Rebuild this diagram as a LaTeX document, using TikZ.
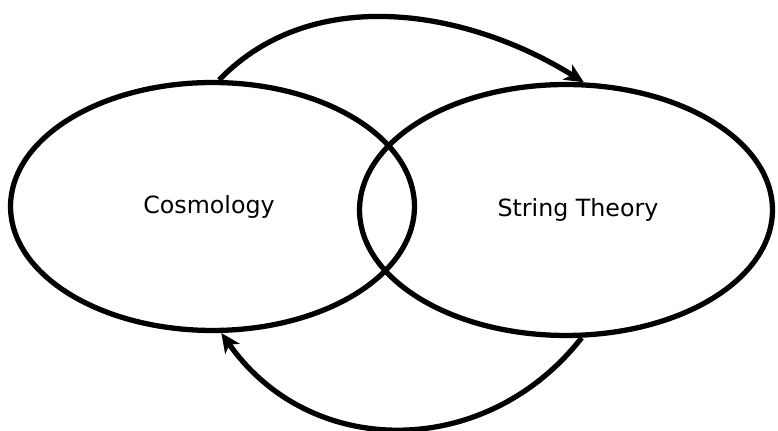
\documentclass[tikz,border=0pt]{standalone}
\usepackage{fontspec}
\setsansfont{DejaVu Sans}
\usetikzlibrary{shapes.geometric, arrows.meta}

\begin{document}
\begin{tikzpicture}[
  x=0.02cm, y=-0.02cm,
  every node/.style={font=\sffamily\fontsize{13.5}{16}\selectfont},
  field/.style={ellipse, draw, line width=3pt, inner sep=0pt},
  arr/.style={-{Stealth[length=11pt, width=10pt, inset=3pt]}, line width=3pt}
]
\useasboundingbox (0,0) rectangle (778,431);

\node[field, minimum width=8.08cm, minimum height=4.96cm] (cosmo) at (212.5,206.5) {};
\node[field, minimum width=8.26cm, minimum height=5.02cm] (string) at (566,210) {};
\node (cosmotxt) at (209,207) {Cosmology};
\node (stringtxt) at (578,210) {String Theory};

\draw[arr] (cosmo.87) to[out=46, in=148, looseness=0.95] (string.82);
\draw[arr] (string.-83) to[out=-128, in=-55, looseness=1.1] (cosmo.-86);

\end{tikzpicture}
\end{document}
